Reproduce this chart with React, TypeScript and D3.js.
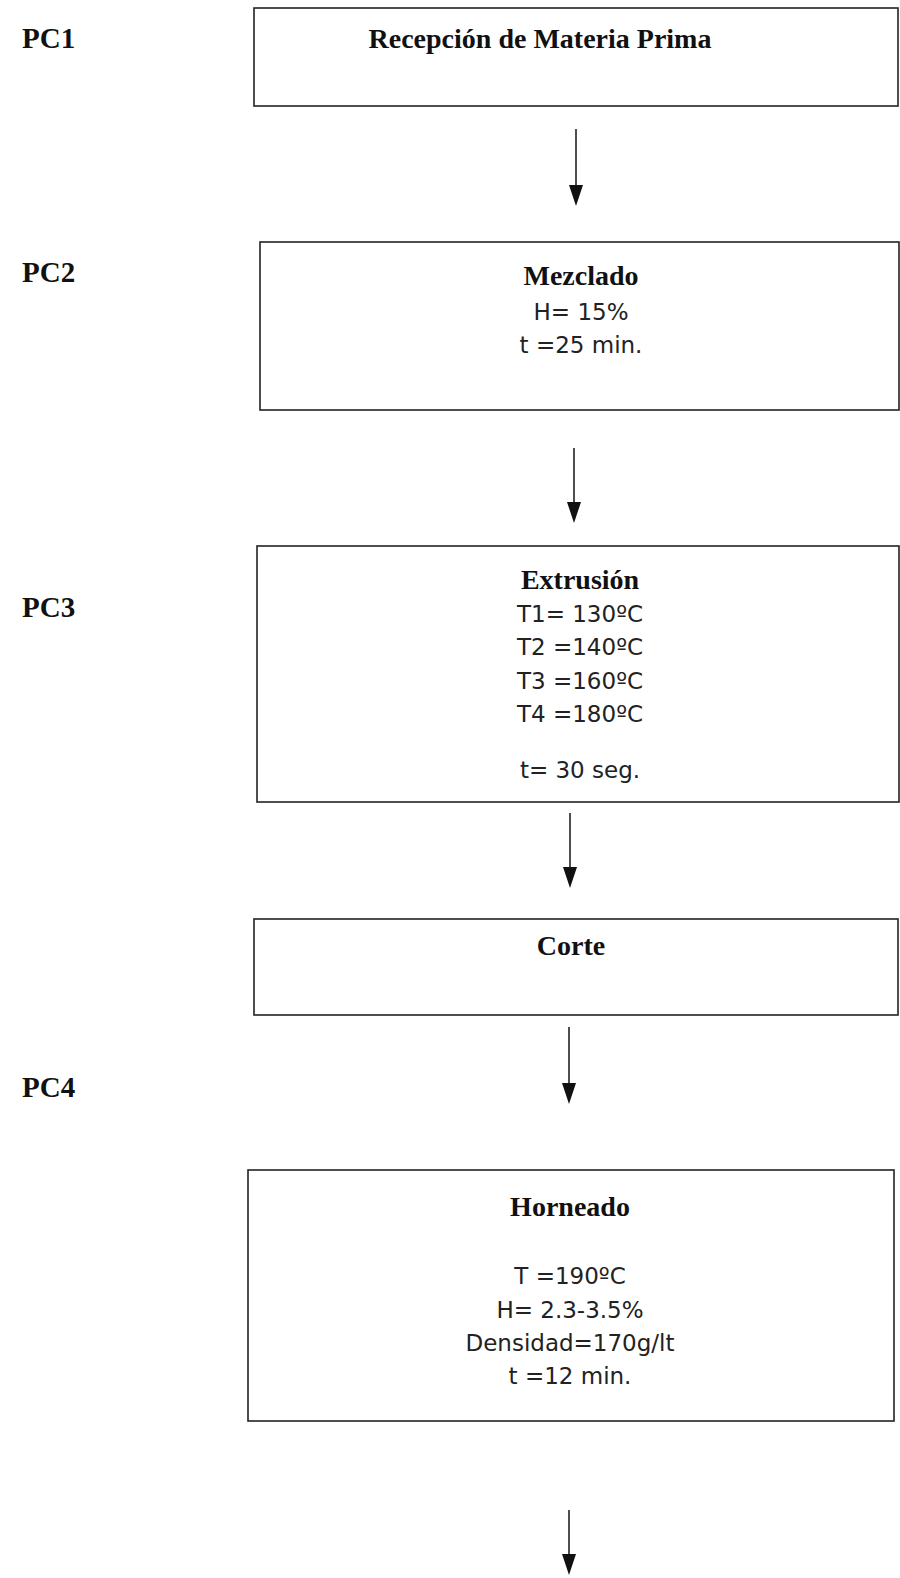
import * as d3 from "d3";

// process control points and steps
const pcLabels = ["PC1", "PC2", "PC3", "PC4"];
const stepTitles = [
  "Recepción de Materia Prima",
  "Mezclado",
  "Extrusión",
  "Corte",
  "Horneado",
];
const stepDetails = [
  [],
  ["H= 15%", "t =25 min."],
  ["T1= 130ºC", "T2 =140ºC", "T3 =160ºC", "T4 =180ºC", "", "t= 30 seg."],
  [],
  ["", "T =190ºC", "H= 2.3-3.5%", "Densidad=170g/lt", "t =12 min."],
];

// layout (page pixels)
const boxLayout = [
  { x0: 254, x1: 898, y0: 8, y1: 106, cx: 540, title: 48, first: 83, blank: 0 },
  { x0: 260, x1: 899, y0: 242, y1: 410, cx: 581, title: 285, first: 320, blank: 0 },
  { x0: 257, x1: 899, y0: 546, y1: 802, cx: 580, title: 589, first: 622, blank: 23 },
  { x0: 254, x1: 898, y0: 919, y1: 1015, cx: 571, title: 955, first: 990, blank: 0 },
  { x0: 248, x1: 894, y0: 1170, y1: 1421, cx: 570, title: 1216, first: 1251, blank: 2 },
];
const pcLayout = [48, 282, 617, 1097];
const arrowLayout = [
  { x: 576, y0: 129, y1: 206 },
  { x: 574, y0: 448, y1: 523 },
  { x: 570, y0: 813, y1: 888 },
  { x: 569, y0: 1027, y1: 1104 },
  { x: 569, y0: 1510, y1: 1575 },
];

const W = 900;
const H = 1578;
const lineStep = 33.3;

function arrowHead(x: number, yTip: number) {
  const p = d3.path();
  p.moveTo(x - 7, yTip - 21);
  p.lineTo(x + 7, yTip - 21);
  p.lineTo(x, yTip);
  p.closePath();
  return p.toString();
}

function lineYs(lines: string[], first: number, blank: number) {
  let y = first;
  const ys: number[] = [];
  lines.forEach((l) => {
    ys.push(y);
    y += l === "" ? lineStep * 0 + (blank > 2 ? blank : lineStep) : lineStep;
  });
  return ys;
}

export default function App() {
  return (
    <svg
      width={W}
      height={H}
      style={{ position: "absolute", left: 0, top: 0, background: "#fff" }}
    >
      {pcLabels.map((pc, i) => (
        <text
          key={pc}
          x={22}
          y={pcLayout[i]}
          fontFamily="Liberation Serif"
          fontWeight="bold"
          fontSize={29}
          fill="#111"
        >
          {pc}
        </text>
      ))}
      {stepTitles.map((title, i) => {
        const b = boxLayout[i];
        const ys = lineYs(stepDetails[i], b.first, b.blank);
        return (
          <g key={title}>
            <rect
              x={b.x0}
              y={b.y0}
              width={b.x1 - b.x0}
              height={b.y1 - b.y0}
              fill="none"
              stroke="#222"
              strokeWidth={1.6}
            />
            <text
              x={b.cx}
              y={b.title}
              textAnchor="middle"
              fontFamily="Liberation Serif"
              fontWeight="bold"
              fontSize={28}
              fill="#111"
            >
              {title}
            </text>
            {stepDetails[i].map((line, j) =>
              line === "" ? null : (
                <text
                  key={j}
                  x={b.cx}
                  y={ys[j]}
                  textAnchor="middle"
                  fontFamily="DejaVu Sans"
                  fontSize={23}
                  fill="#222"
                >
                  {line}
                </text>
              )
            )}
          </g>
        );
      })}
      {arrowLayout.map((a, i) => (
        <g key={i}>
          <line
            x1={a.x}
            x2={a.x}
            y1={a.y0}
            y2={a.y1 - 18}
            stroke="#222"
            strokeWidth={1.6}
          />
          <path d={arrowHead(a.x, a.y1)} fill="#111" />
        </g>
      ))}
    </svg>
  );
}
